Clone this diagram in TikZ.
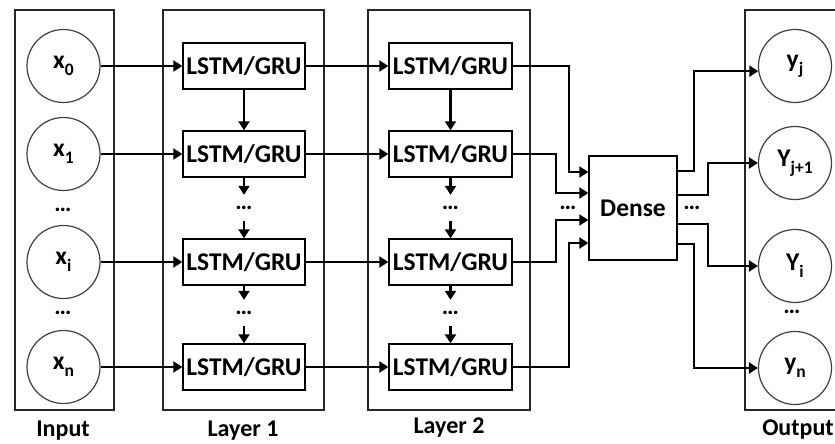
\documentclass[tikz,border=0pt]{standalone}
\usepackage{fontspec}
\setmainfont{Carlito}
\usetikzlibrary{arrows.meta,calc}
\newcommand\lowidx[1]{\raisebox{-0.28em}{\fontsize{17.5}{18}\selectfont #1}}

\begin{document}
\begin{tikzpicture}[x=1pt,y=-1pt,
  every node/.style={font=\fontsize{25.5}{30}\selectfont\bfseries},
  frame/.style={draw=black!85, line width=1.4pt},
  cell/.style={draw, line width=1.4pt, minimum width=122pt, minimum height=46pt, inner sep=0pt},
  unit/.style={draw=black!75, line width=1.2pt, circle, minimum size=73pt, inner sep=0pt},
  link/.style={line width=2.4pt, -{Triangle[length=9pt,width=11pt]}},
  gap/.style={inner sep=0pt, minimum height=26pt, font=\fontsize{24}{24}\selectfont\bfseries},
  caption/.style={font=\fontsize{24}{28}\selectfont\bfseries}
]
\useasboundingbox (0,0) rectangle (835,444);
\clip (0,0) rectangle (835,444);

% column frames
\draw[frame] (15,10) rectangle (114,410);
\draw[frame] (163,10) rectangle (324,410);
\draw[frame] (368,10) rectangle (530,410);
\draw[frame] (745,10) rectangle (850,410);

% input units
\node[unit] (x0) at (63.5,66) {x\lowidx{0}};
\node[unit] (x1) at (63.5,154) {x\lowidx{1}};
\node[unit] (xi) at (63.5,262) {x\lowidx{i}};
\node[unit] (xn) at (63.5,367) {x\lowidx{n}};
\node[gap] (xd1) at (63,210) {\textellipsis};
\node[gap] (xd2) at (63,313) {\textellipsis};

% first recurrent layer
\node[cell] (l1a) at (244,66) {LSTM/GRU};
\node[cell] (l1b) at (244,154) {LSTM/GRU};
\node[cell] (l1c) at (244,262) {LSTM/GRU};
\node[cell] (l1d) at (244,367) {LSTM/GRU};
\node[gap] (l1g1) at (244,208) {\textellipsis};
\node[gap] (l1g2) at (244,313) {\textellipsis};

% second recurrent layer
\node[cell, minimum width=123pt] (l2a) at (450.5,66) {LSTM/GRU};
\node[cell, minimum width=123pt] (l2b) at (450.5,154) {LSTM/GRU};
\node[cell, minimum width=123pt] (l2c) at (450.5,262) {LSTM/GRU};
\node[cell, minimum width=123pt] (l2d) at (450.5,367) {LSTM/GRU};
\node[gap] (l2g1) at (450.5,208) {\textellipsis};
\node[gap] (l2g2) at (450.5,313) {\textellipsis};

% dense layer
\node[draw, line width=1.4pt, minimum width=88pt, minimum height=104pt, inner sep=0pt] (dense) at (633,208) {Dense};
\node[gap] (din) at (568,208) {\textellipsis};
\node[gap] (dout) at (692,208) {\textellipsis};

% output units
\node[unit] (yj) at (795,66) {y\lowidx{j}};
\node[unit] (yj1) at (795,163) {Y\lowidx{j+1}};
\node[unit] (yi) at (795,266) {Y\lowidx{i}};
\node[unit] (yn) at (795,368) {y\lowidx{n}};
\node[gap] (yd) at (792,312) {\textellipsis};

% captions
\node[caption] (capin) at (63,431) {Input};
\node[caption] (cap1) at (243,431) {Layer 1};
\node[caption] (cap2) at (449,428) {Layer 2};
\node[caption] (capout) at (798,430) {Output};

% inputs into the first layer
\foreach \s/\t in {x0/l1a, x1/l1b, xi/l1c, xn/l1d}
  \draw[link] (\s) -- (\t);
% first layer into the second layer
\foreach \s/\t in {l1a/l2a, l1b/l2b, l1c/l2c, l1d/l2d}
  \draw[link] (\s) -- (\t);

% recurrent chains
\foreach \c in {l1, l2} {
  \draw[link] (\c a) -- (\c b);
  \draw[link] (\c b) -- (\c g1);
  \draw[link] (\c g1) -- (\c c);
  \draw[link] (\c c) -- (\c g2);
  \draw[link] (\c g2) -- (\c d);
}

% second layer into the dense layer
\draw[link] (l2a.east) -- ++(56,0) |- ($(dense.west)+(0,-36)$);
\draw[link] (l2b.east) -- ++(43,0) |- ($(dense.west)+(0,-15)$);
\draw[link] (l2c.east) -- ++(43,0) |- ($(dense.west)+(0,12)$);
\draw[link] (l2d.east) -- ++(56,0) |- ($(dense.west)+(0,35)$);

% dense layer to the outputs
\draw[link] ($(dense.east)+(0,-37)$) -- ++(16,0) |- (yj.188);
\draw[link] ($(dense.east)+(0,-13)$) -- ++(30,0) |- (yj1.west);
\draw[link] ($(dense.east)+(0,16)$) -- ++(30,0) |- (yi.west);
\draw[link] ($(dense.east)+(0,36)$) -- ++(16,0) |- (yn.west);
\end{tikzpicture}
\end{document}
